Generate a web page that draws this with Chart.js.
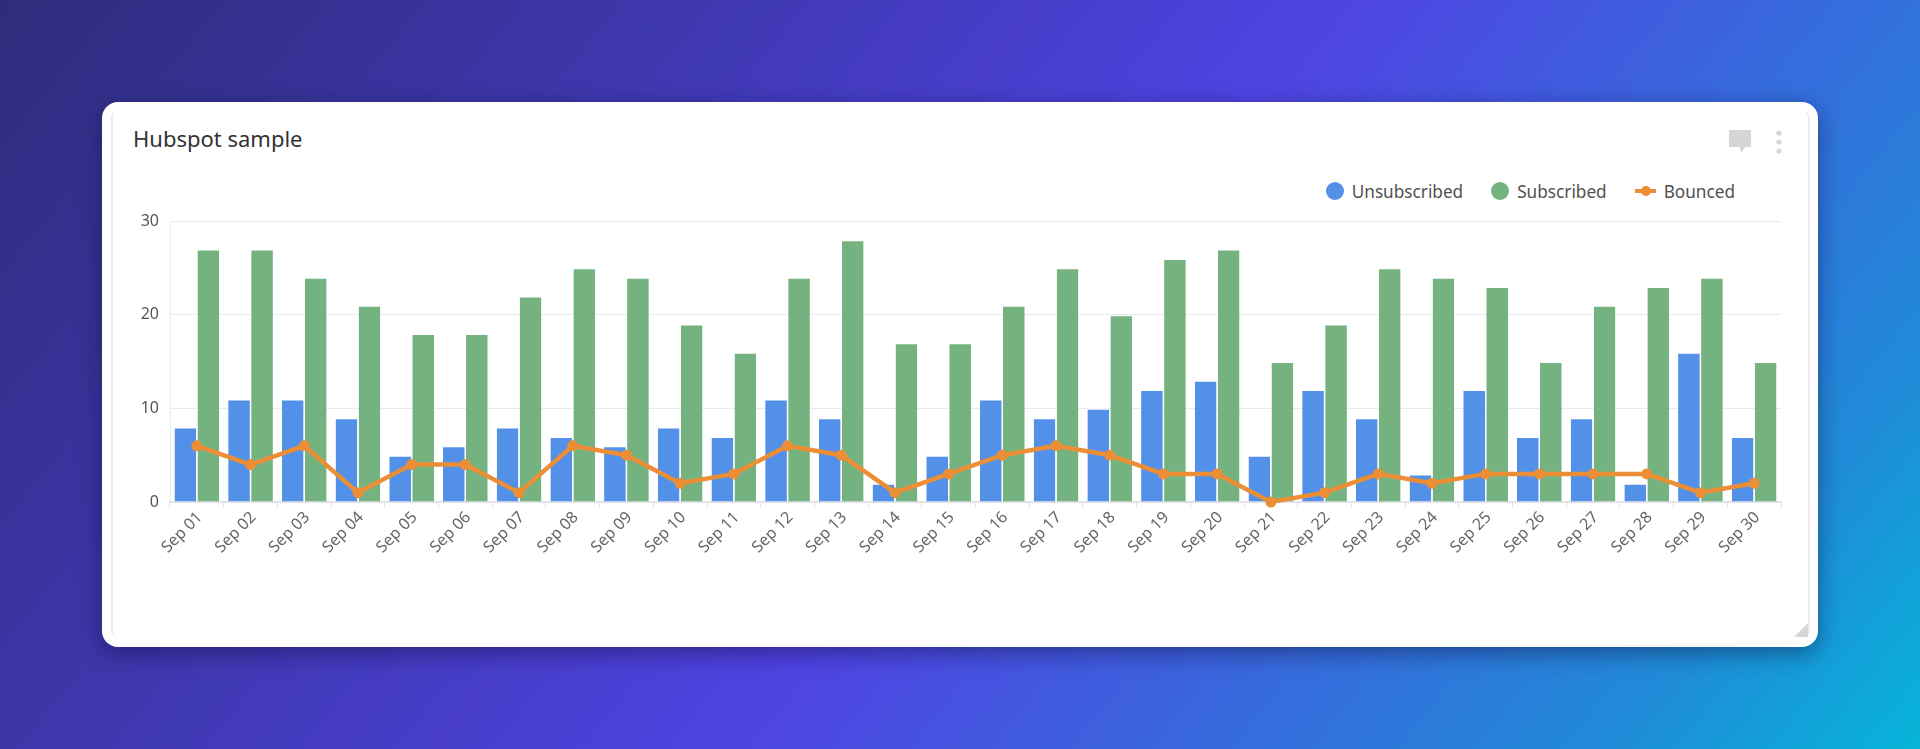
<!DOCTYPE html>
<html>
<head>
<meta charset="utf-8">
<title>Hubspot sample</title>
<script src="https://cdn.jsdelivr.net/npm/chart.js@4"></script>
<style>
html, body { margin: 0; width: 1920px; height: 749px; overflow: hidden; }
body { position: relative; font-family: "Noto Sans", sans-serif;
  background: linear-gradient(129deg, #2e2d7c 0%, #3c36a8 24%, #4f43e2 53%, #3272dc 76%, #1f8cd8 88%, #07b4d9 100%); }
#card { position: absolute; left: 102px; top: 102px; width: 1716px; height: 545px; background: #fff;
  border-radius: 16px; box-shadow: 0 6px 22px rgba(10,10,50,.45); }
#inner { position: absolute; left: 9px; top: 8px; width: 1695px; height: 528px; border: 2px solid #ececf0;
  border-bottom: 0; border-top: 0; border-radius: 8px; box-sizing: content-box; }
#title { position: absolute; left: 31px; top: 21px; font-size: 22px; line-height: 30px; color: #333; }
#legend { position: absolute; right: 83px; top: 77px; height: 24px; display: flex; align-items: center;
  font-size: 17.2px; color: #505050; }
#legend span.item { display: flex; align-items: center; margin-left: 28px; }
#legend i { display: block; width: 18px; height: 18px; border-radius: 50%; margin-right: 8px; }
#legend b { display: block; position: relative; width: 21px; height: 4px; margin-right: 8px; }
#legend b::after { content: ""; position: absolute; left: 6px; top: -3px; width: 10px; height: 10px;
  border-radius: 50%; background: inherit; }
#chartBox { position: absolute; left: 10px; top: 98px; width: 1696px; height: 420px; }
#icons { position: absolute; left: 1627px; top: 28px; }
#grip { position: absolute; right: 10px; bottom: 10px; width: 0; height: 0;
  border-left: 14px solid transparent; border-bottom: 14px solid #d6d6d6; }
</style>
</head>
<body>
<div id="card">
  <div id="inner"></div>
  <div id="title">Hubspot sample</div>
  <svg id="icons" width="60" height="26" viewBox="0 0 60 26">
    <path d="M0 0h22v17h-6l-4 6-1-6H0z" fill="#d6d6d6" />
    <circle cx="50" cy="3" r="2.6" fill="#d6d6d6" />
    <circle cx="50" cy="12" r="2.6" fill="#d6d6d6" />
    <circle cx="50" cy="21" r="2.6" fill="#d6d6d6" />
  </svg>
  <div id="legend"></div>
  <div id="chartBox"><canvas id="mainChart"></canvas></div>
  <div id="grip"></div>
</div>
<script>
// valores
const categories = ['Sep 01', 'Sep 02', 'Sep 03', 'Sep 04', 'Sep 05', 'Sep 06', 'Sep 07', 'Sep 08', 'Sep 09', 'Sep 10',
    'Sep 11', 'Sep 12', 'Sep 13', 'Sep 14', 'Sep 15', 'Sep 16', 'Sep 17', 'Sep 18', 'Sep 19', 'Sep 20',
    'Sep 21', 'Sep 22', 'Sep 23', 'Sep 24', 'Sep 25', 'Sep 26', 'Sep 27', 'Sep 28', 'Sep 29', 'Sep 30'];
const unsubscribed = [8, 11, 11, 9, 5, 6, 8, 7, 6, 8, 7, 11, 9, 2, 5, 11, 9, 10, 12, 13, 5, 12, 9, 3, 12, 7, 9, 2, 16, 7];
const subscribed = [27, 27, 24, 21, 18, 18, 22, 25, 24, 19, 16, 24, 28, 17, 17, 21, 25, 20, 26, 27, 15, 19, 25, 24, 23, 15, 21, 23, 24, 15];
const bounced = [6, 4, 6, 1, 4, 4, 1, 6, 5, 2, 3, 6, 5, 1, 3, 5, 6, 5, 3, 3, 0, 1, 3, 2, 3, 3, 3, 3, 1, 2];

const BLUE = '#5390e8';
const GREEN = '#74b37f';
const ORANGE = '#ec8e36';

// legenda em html
const legendEl = document.getElementById('legend');
[['Unsubscribed', BLUE, 'i'], ['Subscribed', GREEN, 'i'], ['Bounced', ORANGE, 'b']].forEach(([name, color, tag]) => {
    const item = document.createElement('span');
    item.className = 'item';
    const mark = document.createElement(tag);
    mark.style.background = color;
    item.appendChild(mark);
    item.appendChild(document.createTextNode(name));
    legendEl.appendChild(item);
});

const barTop = { top: 1.5, left: 0, right: 0, bottom: 0 };

const ctx = document.getElementById('mainChart').getContext('2d');
const mainChart = new Chart(ctx, {
    type: 'bar',
    data: {
        labels: categories,
        datasets: [
            {
                type: 'line',
                label: 'Bounced',
                data: bounced,
                borderColor: ORANGE,
                backgroundColor: ORANGE,
                borderWidth: 4.5,
                pointRadius: 5.5,
                pointBackgroundColor: ORANGE,
                pointBorderWidth: 0,
                tension: 0,
                clip: false,
                order: 0
            },
            {
                label: 'Unsubscribed',
                data: unsubscribed,
                backgroundColor: BLUE,
                borderColor: '#fff',
                borderWidth: barTop,
                borderSkipped: false,
                categoryPercentage: 0.857,
                barPercentage: 0.943,
                order: 1
            },
            {
                label: 'Subscribed',
                data: subscribed,
                backgroundColor: GREEN,
                borderColor: '#fff',
                borderWidth: barTop,
                borderSkipped: false,
                categoryPercentage: 0.857,
                barPercentage: 0.943,
                order: 1
            }
        ]
    },
    options: {
        responsive: true,
        maintainAspectRatio: false,
        animation: false,
        layout: { padding: { left: 0, right: 27, top: 21, bottom: 0 } },
        plugins: { legend: { display: false }, tooltip: { enabled: false } },
        scales: {
            x: {
                afterFit: (scale) => { scale.height = 118; },
                grid: { drawOnChartArea: false, drawTicks: true, tickLength: 6, color: '#e2e2e8' },
                border: { color: '#e2e2e8', width: 2 },
                ticks: {
                    autoSkip: false,
                    minRotation: 45,
                    maxRotation: 45,
                    color: '#666',
                    padding: 0,
                    labelOffset: 3,
                    font: { family: '"Noto Sans"', size: 16 }
                }
            },
            y: {
                min: 0,
                max: 30,
                afterFit: (scale) => { scale.width = 58; },
                grid: { color: '#eaeaee', drawTicks: false },
                border: { color: '#eaeaee' },
                ticks: {
                    stepSize: 10,
                    color: '#555',
                    padding: 11,
                    font: { family: '"Noto Sans"', size: 16 }
                }
            }
        }
    }
});
</script>
</body>
</html>
